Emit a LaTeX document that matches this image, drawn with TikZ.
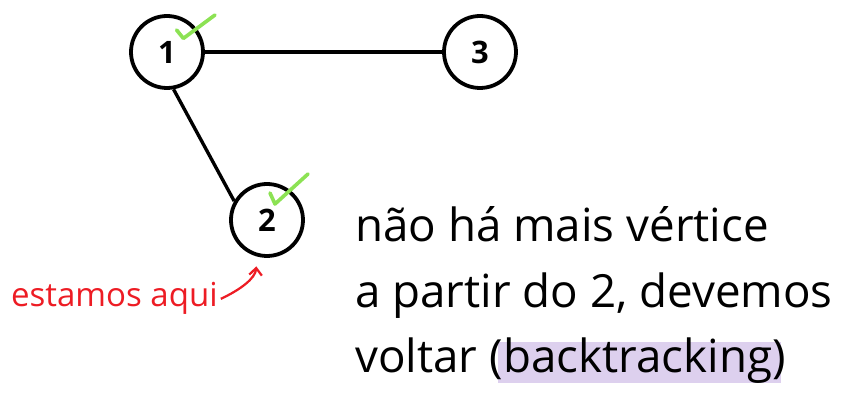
\documentclass[tikz,border=0pt]{standalone}
\usepackage{fontspec}
\setmainfont{Open Sans}[Ligatures=NoCommon]
\usetikzlibrary{arrows.meta, backgrounds}
\definecolor{tickGreen}{RGB}{140,226,84}
\definecolor{noteRed}{RGB}{237,28,36}
\definecolor{markerPurple}{RGB}{221,208,238}
\tikzstyle{vertex}   = [circle,
                        minimum size=1.8cm,
                        draw=black,
                        line width=2.7pt,
                        font=\fontsize{22}{22}\selectfont\bfseries]
\tikzstyle{edge}     = [line width=2.4pt]
\tikzstyle{tick}     = [line width=2.6pt,
                        draw=tickGreen,
                        line cap=round,
                        line join=round]
\tikzstyle{note}     = [anchor=base west,
                        inner sep=2pt,
                        text=noteRed,
                        font=\fontsize{23.5}{23.5}\selectfont]
\tikzstyle{pointer}  = [line width=1.6pt, draw=noteRed,
                        -{Straight Barb[length=5pt, width=9pt]},
                        shorten >=7pt]
\tikzstyle{textLine} = [anchor=base west,
                        inner sep=0pt,
                        font=\fontsize{32.5}{32.5}\selectfont]
\tikzstyle{marker}   = [fill=markerPurple]

\begin{document}
\begin{tikzpicture}
        \useasboundingbox (-4.175,1.3) rectangle (17.0,-8.75);

        \node [vertex] (v1) {1};
        \node [vertex] (v3) at ([shift={(7.825,0)}] v1) {3};
        \node [vertex] (v2) at ([shift={(2.5,-4.2)}] v1) {2};

        \draw [edge] (v1) -- (v3);
        \draw [edge] (v1.-80) -- (v2.150);

        % visited marks
        \draw [tick] ([shift={(0.24,0.55)}] v1.center) -- ([shift={(0.41,0.34)}] v1.center)
                     -- ([shift={(1.2,0.925)}] v1.center);
        \draw [tick] ([shift={(0.075,0.675)}] v2.center) -- ([shift={(0.2,0.4)}] v2.center)
                     -- ([shift={(1.025,1.15)}] v2.center);

        \node [note] (aqui) at ([shift={(-6.475,-2.175)}] v2) {estamos aqui};
        \draw [pointer] (aqui.east) to [out=25, in=-95] (v2.-105);

        \node [textLine] (line1) at ([shift={(2.2,-0.55)}] v2) {não há mais vértice};
        \node [textLine] (line2) at ([shift={(2.2,-2.2)}] v2) {a partir do 2, devemos};
        \node [textLine] (line3) at ([shift={(2.2,-3.825)}] v2) {voltar (};
        \node [textLine] (busca) at (line3.base east) {backtracking};
        \node [textLine] (fecha) at (busca.base east) {)};

        \begin{scope}[on background layer]
            \fill [marker] ([shift={(-0.12,-0.25)}] busca.base west)
                rectangle ([shift={(0.2,0.775)}] busca.base east);
        \end{scope}
    \end{tikzpicture}
\end{document}
